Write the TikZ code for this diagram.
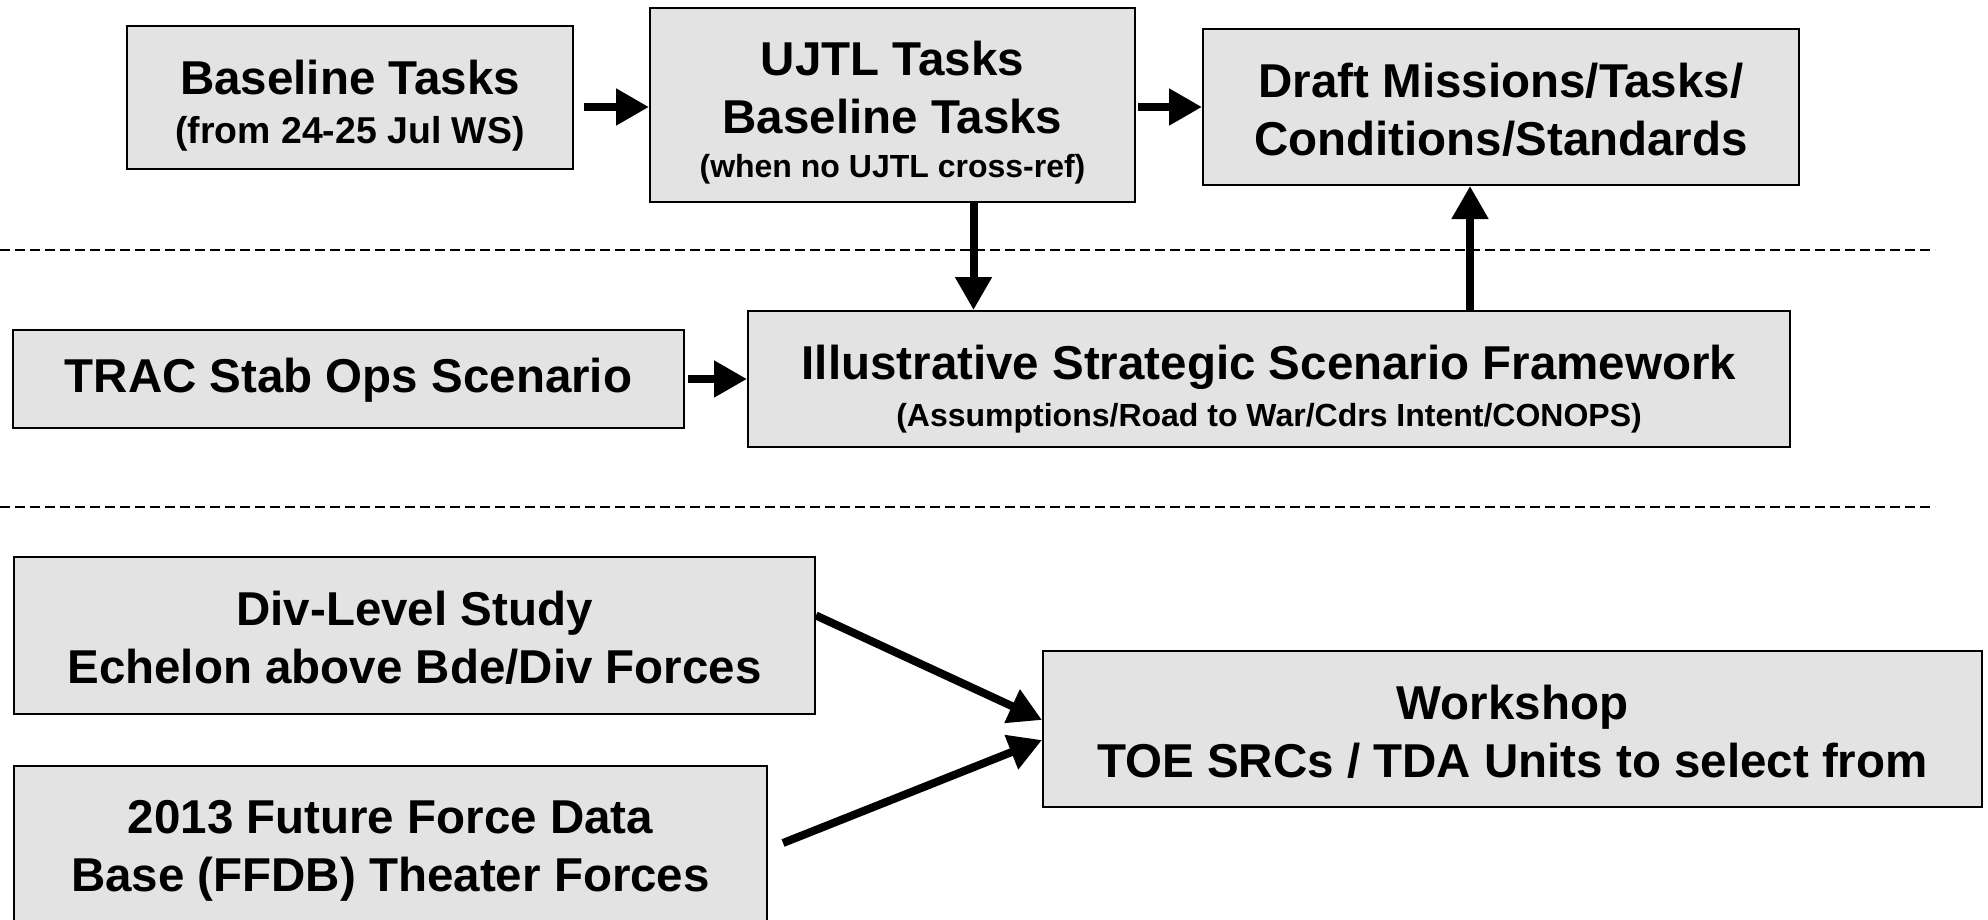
\documentclass[tikz,border=0pt]{standalone}
\usepackage{fontspec}
\setmainfont{Liberation Sans}
\usetikzlibrary{arrows.meta}
\definecolor{boxgray}{RGB}{227,227,227}
\newcommand\subtxt[2]{{\fontsize{#1}{#1}\selectfont #2}}

\begin{document}
\begin{tikzpicture}[x=1pt,y=-1pt,
    box/.style={draw=black, line width=2pt, fill=boxgray, inner sep=0pt},
    txt/.style={align=center, inner sep=0pt, font=\bfseries\fontsize{47.5}{58}\selectfont},
    arr/.style={-{Triangle[length=33pt,width=35pt]}, line width=8pt},
    divider/.style={line width=2pt, dash pattern=on 10pt off 5pt}]
  \useasboundingbox (0,0) rectangle (1988,920);

  % Top row
  \node[box, minimum width=446pt, minimum height=143pt] (base) at (350,97.5) {};
  \node[txt] (base-t) at ([yshift=-8.5pt]base.center)
    {Baseline Tasks\\[-9pt]\subtxt{37.4}{(from 24-25 Jul WS)}};
  \node[box, minimum width=485pt, minimum height=194pt] (ujtl) at (892.5,105) {};
  \node[txt] (ujtl-t) at ([yshift=-7.5pt]ujtl.center)
    {UJTL Tasks\\Baseline Tasks\\[-14pt]\subtxt{32}{(when no UJTL cross-ref)}};
  \node[box, minimum width=596pt, minimum height=156pt] (draft) at (1501,107) {};
  \node[txt] (draft-t) at ([yshift=-2.5pt]draft.center)
    {Draft Missions/Tasks/\\Conditions/Standards};

  % Middle row
  \node[box, minimum width=671pt, minimum height=98pt] (trac) at (348.5,379) {};
  \node[txt] (trac-t) at ([yshift=-1pt]trac.center) {TRAC Stab Ops Scenario};
  \node[box, minimum width=1042pt, minimum height=136pt] (illus) at (1269,379) {};
  \node[txt] (illus-t) at ([yshift=-10pt]illus.center)
    {Illustrative Strategic Scenario Framework\\[-11pt]\subtxt{32}{(Assumptions/Road to War/Cdrs Intent/CONOPS)}};

  % Bottom row
  \node[box, minimum width=801pt, minimum height=157pt] (div) at (414.5,635.5) {};
  \node[txt] (div-t) at ([yshift=-2.5pt]div.center) {Div-Level Study\\Echelon above Bde/Div Forces};
  \node[box, minimum width=753pt, minimum height=160pt] (ffdb) at (390.5,846) {};
  \node[txt] (ffdb-t) at ([yshift=-5pt]ffdb.center) {2013 Future Force Data\\Base (FFDB) Theater Forces};
  \node[box, minimum width=939pt, minimum height=156pt] (work) at (1512.5,729) {};
  \node[txt] (work-t) at ([yshift=-2.5pt]work.center) {Workshop\\TOE SRCs / TDA Units to select from};

  % Dividers
  \draw[divider] (0,250) -- (1935,250);
  \draw[divider] (0,507) -- (1935,507);

  % Arrows
  \draw[arr] ([xshift=10pt]base.east |- draft.west) -- (ujtl.west |- draft.west);
  \draw[arr] ([xshift=2pt]ujtl.east |- draft.west) -- (draft.west);
  \draw[arr] ([xshift=81pt]ujtl.south) -- ([xshift=81pt]ujtl.south |- illus.north);
  \draw[arr] ([xshift=-31pt]draft.south |- illus.north) -- ([xshift=-31pt]draft.south);
  \draw[arr] ([xshift=3pt]trac.east) -- (illus.west);
  \draw[arr] ([yshift=20pt]div.east) -- ([yshift=9pt]work.west);
  \draw[arr] ([xshift=15pt,yshift=3pt]ffdb.east) -- ([yshift=-11pt]work.west);
\end{tikzpicture}
\end{document}
